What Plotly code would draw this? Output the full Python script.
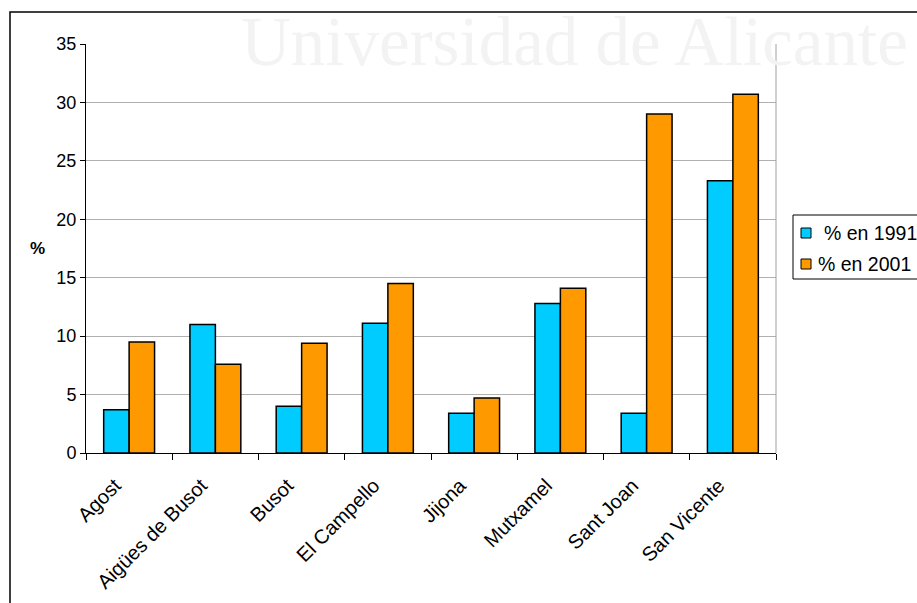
import plotly.graph_objects as go

categories = ["Agost", "Aigües de Busot", "Busot", "El Campello", "Jijona",
              "Mutxamel", "Sant Joan", "San Vicente"]
pct_1991 = [3.7, 11.0, 4.0, 11.1, 3.4, 12.8, 3.4, 23.3]
pct_2001 = [9.5, 7.6, 9.4, 14.5, 4.7, 14.1, 29.0, 30.7]
series_names = ["% en 1991", "% en 2001"]
series_colors = ["#00CCFF", "#FF9900"]
y_ticks = [0, 5, 10, 15, 20, 25, 30, 35]

W, H = 917, 603
L, R, T, B = 86, 141, 44, 150
pw, ph = W - L - R, H - T - B

def px_x(x):
    return (x - L) / pw

def px_y(y):
    return (H - B - y) / ph

fig = go.Figure()
for name, vals, col in zip(series_names, [pct_1991, pct_2001], series_colors):
    fig.add_trace(go.Bar(name=name, x=categories, y=vals,
                         marker=dict(color=col, line=dict(color="#000000", width=1.5))))

fig.update_layout(
    width=W, height=H,
    margin=dict(l=L, r=R, t=T, b=B, autoexpand=False),
    paper_bgcolor="white", plot_bgcolor="white",
    barmode="group", bargap=0.41, bargroupgap=0,
    font=dict(family="Liberation Sans, Arial", size=18, color="#000000"),
    showlegend=False,
    xaxis=dict(showline=True, linecolor="#000000", linewidth=1,
               ticks="outside", tickson="boundaries", ticklen=6, tickcolor="#000000",
               tickangle=-45, tickfont=dict(size=20), showgrid=False, automargin=False,
               ticklabelstandoff=12, ticklabelshift=-14),
    yaxis=dict(range=[0, 35], tickvals=y_ticks, showline=True, linecolor="#000000",
               linewidth=1, ticks="outside", ticklen=5, tickcolor="#000000",
               showgrid=True, gridcolor="#B0B0B0", gridwidth=1,
               tickfont=dict(size=18), zeroline=False, automargin=False),
)

fig.add_annotation(text="<b>%</b>", xref="paper", yref="paper",
                   x=px_x(37), y=px_y(249), showarrow=False,
                   font=dict(size=17), xanchor="center", yanchor="middle")

# right plot border (gray)
fig.add_shape(type="line", xref="paper", yref="paper", x0=1, x1=1, y0=0, y1=1,
              line=dict(color="#A0A0A0", width=1))

# outer chart frame
fig.add_shape(type="rect", xref="paper", yref="paper",
              x0=px_x(10), x1=px_x(925), y0=px_y(612), y1=px_y(12),
              line=dict(color="#000000", width=1.5), fillcolor="rgba(0,0,0,0)")

# legend (drawn manually so it can be clipped by the page edge like the reference)
fig.add_shape(type="rect", xref="paper", yref="paper",
              x0=px_x(793), x1=px_x(930), y0=px_y(279), y1=px_y(215),
              line=dict(color="#000000", width=1), fillcolor="white")
legend_rows = [(233, 822), (264, 816)]
for (cy, tx), name, col in zip(legend_rows, series_names, series_colors):
    fig.add_shape(type="rect", xref="paper", yref="paper",
                  x0=px_x(801), x1=px_x(811), y0=px_y(cy + 5), y1=px_y(cy - 5),
                  line=dict(color="#000000", width=1), fillcolor=col)
    fig.add_annotation(text=name, xref="paper", yref="paper",
                       x=px_x(tx), y=px_y(cy), xanchor="left", yanchor="middle",
                       showarrow=False, font=dict(size=19.5))

# watermark
fig.add_annotation(text="Universidad de Alicante", xref="paper", yref="paper",
                   x=px_x(910), y=px_y(42), xanchor="right", yanchor="middle",
                   showarrow=False,
                   font=dict(family="Liberation Serif, Times New Roman", size=69, color="#F3F3F3"))

fig.write_html("out.html")
